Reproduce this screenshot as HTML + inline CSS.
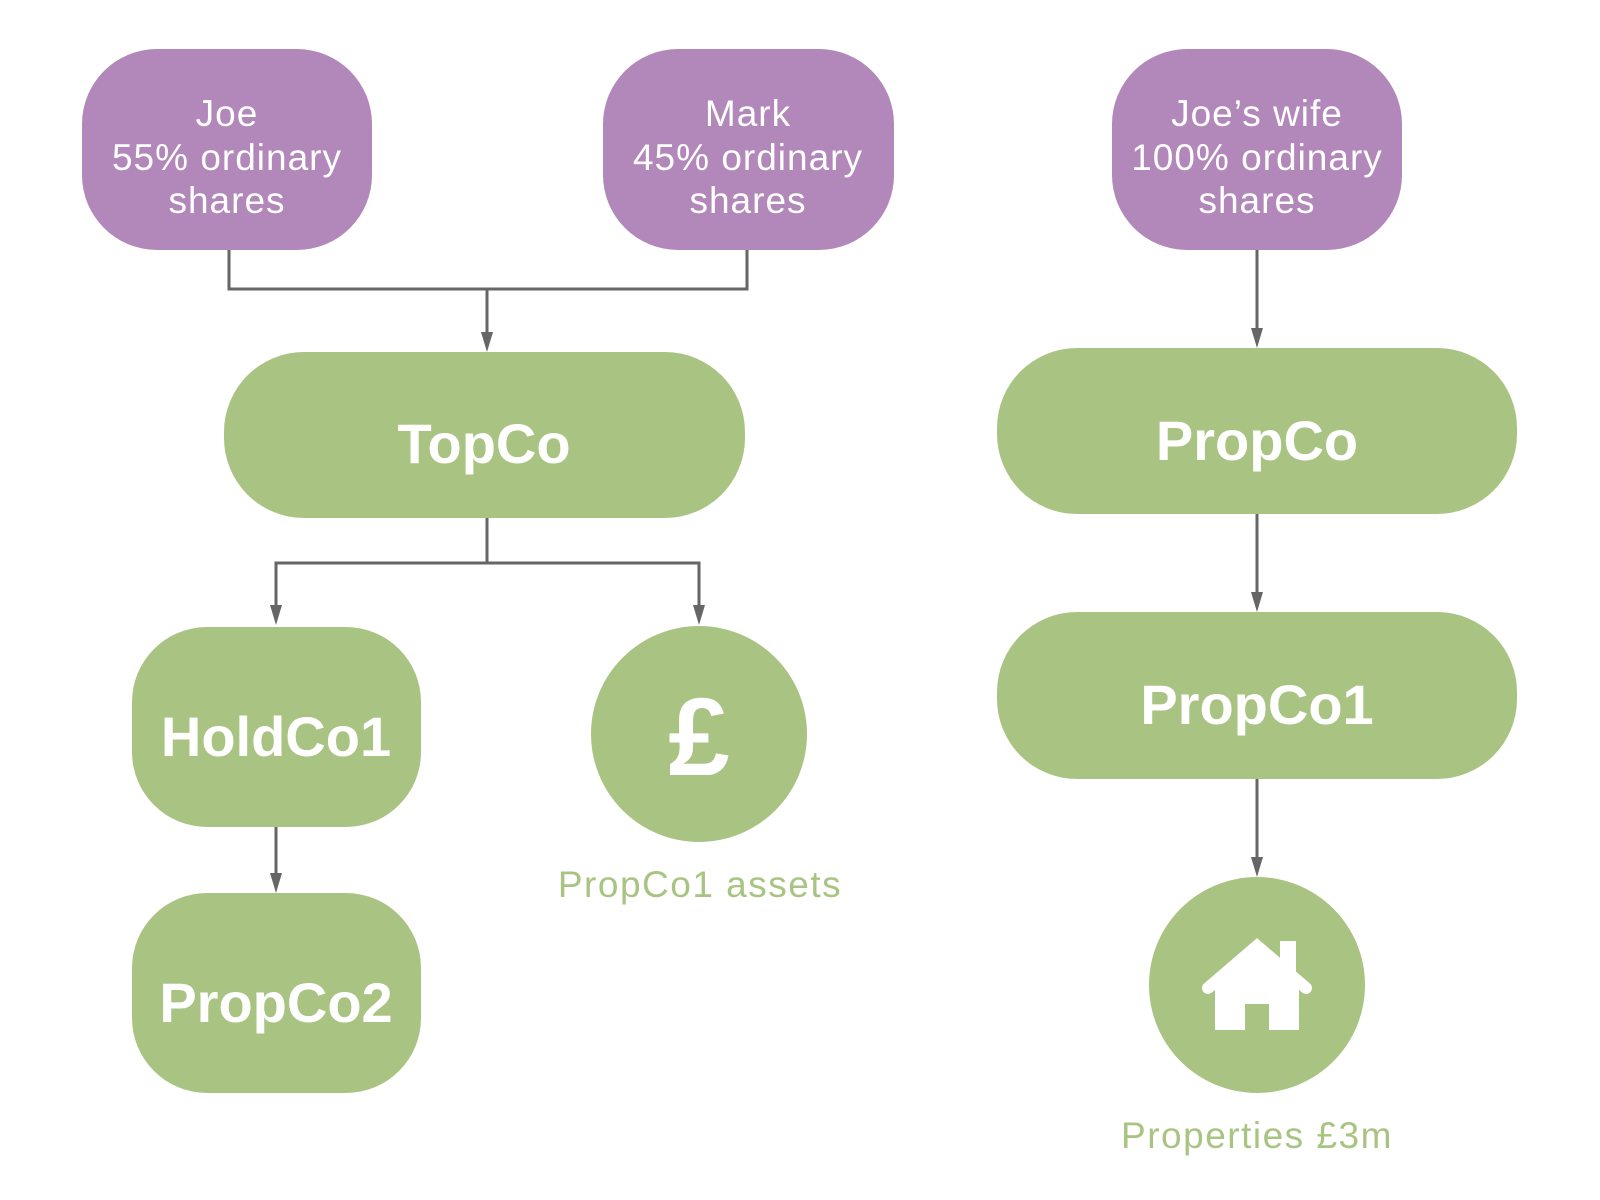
<!DOCTYPE html>
<html><head><meta charset="utf-8"><style>
html,body{margin:0;padding:0;background:#fff;}
svg{display:block;}
</style></head><body>
<svg width="1600" height="1200" viewBox="0 0 1600 1200" xmlns="http://www.w3.org/2000/svg">
<g fill="#b287b9">
<rect x="82" y="49" width="290" height="201" rx="75"/>
<rect x="603" y="49" width="291" height="201" rx="75"/>
<rect x="1112" y="49" width="290" height="201" rx="75"/>
</g>
<g fill="#a9c482">
<rect x="224" y="352" width="521" height="166" rx="80"/>
<rect x="997" y="348" width="520" height="166" rx="80"/>
<rect x="997" y="612" width="520" height="167" rx="80"/>
<rect x="132" y="627" width="289" height="200" rx="75"/>
<rect x="132" y="893" width="289" height="200" rx="75"/>
<circle cx="699" cy="734" r="108"/>
<circle cx="1257" cy="985" r="108"/>
</g>
<g stroke="#666" stroke-width="3" fill="none">
<polyline points="229,250 229,289 747,289 747,250"/>
<line x1="487" y1="289" x2="487" y2="340"/>
<line x1="487" y1="518" x2="487" y2="563"/>
<polyline points="276,612 276,563 699,563 699,612"/>
<line x1="276" y1="827" x2="276" y2="880"/>
<line x1="1257" y1="250" x2="1257" y2="335"/>
<line x1="1257" y1="514" x2="1257" y2="599"/>
<line x1="1257" y1="779" x2="1257" y2="864"/>
</g>
<g fill="#666">
<polygon points="481,332 493,332 487,352"/>
<polygon points="270,605 282,605 276,625"/>
<polygon points="693,605 705,605 699,625"/>
<polygon points="270,873 282,873 276,893"/>
<polygon points="1251,328 1263,328 1257,348"/>
<polygon points="1251,592 1263,592 1257,612"/>
<polygon points="1251,857 1263,857 1257,877"/>
</g>
<g font-family="'Liberation Sans',sans-serif" font-size="37" letter-spacing="1" fill="#fff" text-anchor="middle">
<text x="227" y="126">Joe</text><text x="227" y="170">55% ordinary</text><text x="227" y="213">shares</text>
<text x="748" y="126">Mark</text><text x="748" y="170">45% ordinary</text><text x="748" y="213">shares</text>
<text x="1257" y="126">Joe’s wife</text><text x="1257" y="170">100% ordinary</text><text x="1257" y="213">shares</text>
</g>
<g font-family="'Liberation Sans',sans-serif" font-size="56" font-weight="bold" fill="#fff" text-anchor="middle">
<text x="484" y="463">TopCo</text>
<text x="1257" y="460">PropCo</text>
<text x="1257" y="724">PropCo1</text>
<text x="276" y="756">HoldCo1</text>
<text x="276" y="1022">PropCo2</text>
<text x="699" y="775" font-size="110">£</text>
</g>
<g fill="#fff">
<polygon points="1257,942 1215,978 1215,1030 1245,1030 1245,1004 1269,1004 1269,1030 1299,1030 1299,978"/>
<polyline points="1208,988 1257,946 1306,988" fill="none" stroke="#fff" stroke-width="12" stroke-linecap="round"/>
<rect x="1280" y="941" width="16" height="34"/>
</g>
<g font-family="'Liberation Sans',sans-serif" font-size="37" letter-spacing="1.5" fill="#a9c482" text-anchor="middle">
<text x="700" y="897">PropCo1 assets</text>
<text x="1257" y="1148">Properties £3m</text>
</g>
</svg>
</body></html>
